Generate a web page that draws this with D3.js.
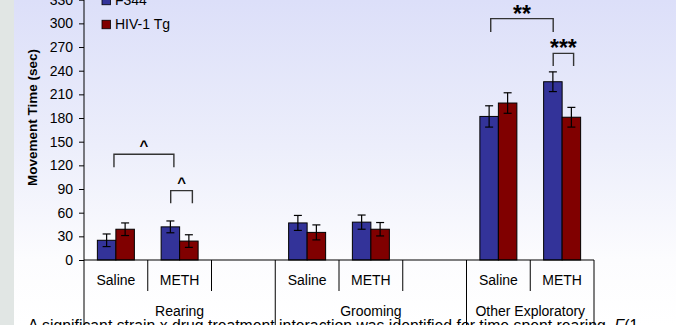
<!DOCTYPE html>
<html>
<head>
<meta charset="utf-8">
<script src="https://cdn.jsdelivr.net/npm/d3@7"></script>
<style>
  html, body { margin: 0; padding: 0; }
  body { width: 676px; height: 325px; overflow: hidden; }
  svg { display: block; font-family: Arial, "Liberation Sans", sans-serif; }
</style>
</head>
<body>
<svg id="chart" width="676" height="325"></svg>
<script>
// Behaviour groups and drug treatments
const groups = ["Rearing", "Grooming", "Other Exploratory"];
const treatments = ["Saline", "METH"];
const series = ["F344", "HIV-1 Tg"];
const seriesColors = ["#333399", "#800000"];

// Mean movement time (sec) and SEM, ordered group by group, Saline then METH
const f344Means = [25, 42, 47, 48, 182, 226];
const f344Sem   = [8, 7.5, 9.5, 9, 13.5, 12.5];
const tgMeans   = [39, 24, 35, 39, 199, 181];
const tgSem     = [8, 8, 9.5, 8.5, 13, 12.5];

const yTicks = [0, 30, 60, 90, 120, 150, 180, 210, 240, 270, 300, 330];

// Significance brackets: ends are [treatment, position within slot], heights in sec
const brackets = [
  { group: "Rearing", from: ["Saline", 0.47], to: ["METH", 0.41], top: 134, leg: 117.5, label: "^" },
  { group: "Rearing", from: ["METH", 0.36], to: ["METH", 0.70], top: 88, leg: 72, label: "^" },
  { group: "Other Exploratory", from: ["Saline", 0.38], to: ["METH", 0.36], top: 306, leg: 289, label: "**" },
  { group: "Other Exploratory", from: ["METH", 0.36], to: ["METH", 0.68], top: 262, leg: 246, label: "***" }
];

const footnote = "A significant strain x drug treatment interaction was identified for time spent rearing, ";

// ---- layout ----
const W = 676, H = 325;
const svg = d3.select("#chart");

const defs = svg.append("defs");
const grad = defs.append("linearGradient").attr("id", "bg").attr("x1", 0).attr("y1", 0).attr("x2", 0).attr("y2", 1);
grad.append("stop").attr("offset", "0%").attr("stop-color", "#dcdff9");
grad.append("stop").attr("offset", "45%").attr("stop-color", "#eceefb");
grad.append("stop").attr("offset", "80%").attr("stop-color", "#fcfcfe");
grad.append("stop").attr("offset", "100%").attr("stop-color", "#ffffff");

svg.append("rect").attr("width", W).attr("height", H).attr("fill", "url(#bg)");
svg.append("rect").attr("width", 14).attr("height", H).attr("fill", "#e1e6e4");

// Slots: each group gets Saline, METH and a spacer (last group has no spacer)
const slots = [];
groups.forEach((g, gi) => {
  treatments.forEach(t => slots.push(g + "|" + t));
  if (gi < groups.length - 1) slots.push(g + "|");
});

const x0 = d3.scaleBand().domain(slots).range([84, 594]).padding(0);
const x1 = d3.scaleBand().domain(series).range([0, x0.bandwidth()]).paddingInner(0).paddingOuter(0.723);
const y = d3.scaleLinear().domain([0, 330]).range([260, -0.3]);

// Rows of data
const rows = [];
groups.forEach((g, gi) => {
  treatments.forEach((t, ti) => {
    const i = gi * treatments.length + ti;
    rows.push({ slot: g + "|" + t, series: series[0], mean: f344Means[i], sem: f344Sem[i], color: seriesColors[0] });
    rows.push({ slot: g + "|" + t, series: series[1], mean: tgMeans[i], sem: tgSem[i], color: seriesColors[1] });
  });
});

// Bars
svg.append("g").selectAll("rect").data(rows).join("rect")
  .attr("x", d => x0(d.slot) + x1(d.series))
  .attr("y", d => y(d.mean))
  .attr("width", x1.bandwidth())
  .attr("height", d => y(0) - y(d.mean))
  .attr("fill", d => d.color)
  .attr("stroke", "#000")
  .attr("stroke-width", 1);

// Error bars
const eb = svg.append("g").attr("stroke", "#000").attr("stroke-width", 1.2);
rows.forEach(d => {
  const cx = x0(d.slot) + x1(d.series) + x1.bandwidth() / 2;
  eb.append("line").attr("x1", cx).attr("x2", cx).attr("y1", y(d.mean + d.sem)).attr("y2", y(d.mean - d.sem));
  [d.mean + d.sem, d.mean - d.sem].forEach(v => {
    eb.append("line").attr("x1", cx - 4).attr("x2", cx + 4).attr("y1", y(v)).attr("y2", y(v));
  });
});

// Y axis
const yAxis = svg.append("g").attr("transform", "translate(84,0)")
  .call(d3.axisLeft(y).tickValues(yTicks).tickSize(5).tickPadding(6));
yAxis.select(".domain").remove();
yAxis.selectAll("text").attr("font-size", 14).attr("font-family", "Arial, 'Liberation Sans', sans-serif").attr("fill", "#000");
yAxis.selectAll("line").attr("stroke", "#000");

svg.append("line").attr("x1", 84).attr("x2", 84).attr("y1", 0).attr("y2", H).attr("stroke", "#000");

svg.append("text")
  .attr("transform", "translate(37,117.5) rotate(-90)")
  .attr("text-anchor", "middle")
  .attr("font-size", 13.5).attr("font-weight", "bold")
  .text("Movement Time (sec)");

// X axis baseline and category separators
const axisG = svg.append("g").attr("stroke", "#000").attr("stroke-width", 1);
axisG.append("line").attr("x1", 84).attr("x2", 594).attr("y1", y(0)).attr("y2", y(0));
slots.forEach((s, i) => {
  if (i === 0) return;
  const sx = x0(s);
  const groupStart = s.split("|")[0] !== slots[i - 1].split("|")[0];
  axisG.append("line").attr("x1", sx).attr("x2", sx).attr("y1", y(0)).attr("y2", groupStart ? H : 291);
});
const endX = x0.range()[1];
axisG.append("line").attr("x1", endX).attr("x2", endX).attr("y1", y(0)).attr("y2", H);

// Treatment labels
svg.append("g").selectAll("text").data(slots.filter(s => s.split("|")[1])).join("text")
  .attr("x", s => x0(s) + x0.bandwidth() / 2)
  .attr("y", 285)
  .attr("text-anchor", "middle")
  .attr("font-size", 14)
  .text(s => s.split("|")[1]);

// Group labels
svg.append("g").selectAll("text").data(groups).join("text")
  .attr("x", g => {
    const own = slots.filter(s => s.startsWith(g + "|"));
    const a = x0(own[0]);
    const gi = groups.indexOf(g);
    const b = gi < groups.length - 1 ? x0(slots[slots.indexOf(own[own.length - 1]) + 1]) : endX;
    return (a + b) / 2;
  })
  .attr("y", 316)
  .attr("text-anchor", "middle")
  .attr("font-size", 14)
  .text(g => g);

// Significance brackets
const bg = svg.append("g");
brackets.forEach(b => {
  const xa = x0(b.group + "|" + b.from[0]) + b.from[1] * x0.bandwidth();
  const xb = x0(b.group + "|" + b.to[0]) + b.to[1] * x0.bandwidth();
  bg.append("path")
    .attr("d", `M${xa},${y(b.leg)}V${y(b.top)}H${xb}V${y(b.leg)}`)
    .attr("fill", "none").attr("stroke", "#333").attr("stroke-width", 1.4);
  const caret = b.label === "^";
  bg.append("text")
    .attr("x", (xa + xb) / 2)
    .attr("y", y(b.top) + (caret ? -3 : 3))
    .attr("text-anchor", "middle")
    .attr("font-weight", "bold")
    .attr("font-size", caret ? 15 : 23)
    .text(b.label);
});

// Legend
const lg = svg.append("g");
series.forEach((s, i) => {
  const cy = 0.5 + i * 24;
  lg.append("rect").attr("x", 102).attr("y", cy - 4.25).attr("width", 8.5).attr("height", 8.5)
    .attr("fill", seriesColors[i]).attr("stroke", "#000").attr("stroke-width", 0.8);
  lg.append("text").attr("x", 115).attr("y", cy).attr("dy", "0.35em")
    .attr("font-size", 14).text(s);
});

// Footnote line (continues below the visible area)
const fn = svg.append("text").attr("x", 28).attr("y", 331).attr("font-size", 15.8);
fn.append("tspan").text(footnote);
fn.append("tspan").attr("font-style", "italic").text("F");
fn.append("tspan").text("(1");
</script>
</body>
</html>
